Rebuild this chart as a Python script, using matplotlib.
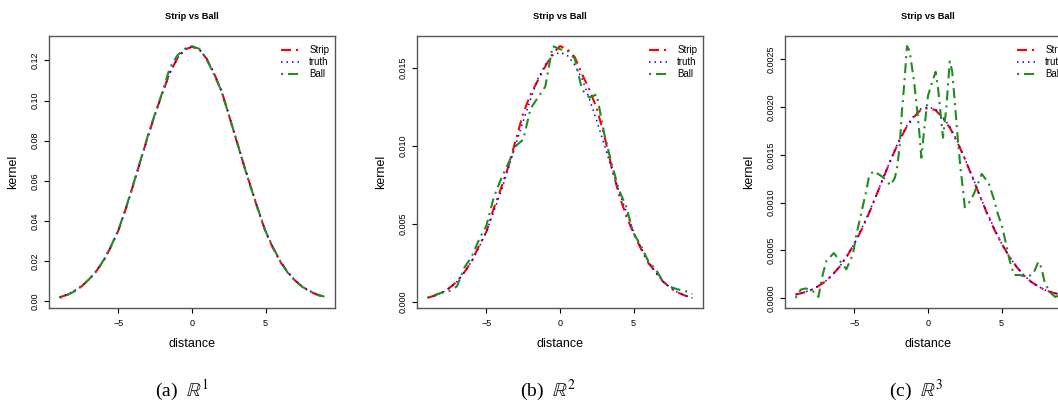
#kernel comparison plots: strip vs ball estimates against the truth, in R^1, R^2, R^3

#dependencies
import numpy as np
import matplotlib
matplotlib.use("Agg")
import matplotlib.pyplot as plt

plt.rcParams['font.family'] = ['Liberation Sans', 'DejaVu Sans']
plt.rcParams['mathtext.fontset'] = 'stix'

#data
#common grid for the smooth curves
x = [-9.0, -8.5, -8.0, -7.5, -7.0, -6.5, -6.0, -5.5, -5.0, -4.5, -4.0, -3.5, -3.0,
     -2.5, -2.0, -1.5, -1.0, -0.5, 0.0, 0.5, 1.0, 1.5, 2.0, 2.5, 3.0, 3.5, 4.0,
     4.5, 5.0, 5.5, 6.0, 6.5, 7.0, 7.5, 8.0, 8.5, 9.0]

#R^1
strip1 = [0.0018, 0.0030, 0.0049, 0.0073, 0.0107, 0.0149, 0.0202, 0.0272, 0.0352, 0.0460,
          0.0578, 0.0700, 0.0820, 0.0935, 0.1040, 0.1140, 0.1210, 0.1255, 0.1268, 0.1255,
          0.1208, 0.1135, 0.1050, 0.0930, 0.0805, 0.0685, 0.0568, 0.0452, 0.0345, 0.0265,
          0.0195, 0.0145, 0.0102, 0.0071, 0.0048, 0.0031, 0.0018]
truth1 = [0.0020, 0.0032, 0.0050, 0.0074, 0.0107, 0.0150, 0.0203, 0.0272, 0.0355, 0.0458,
          0.0575, 0.0698, 0.0818, 0.0932, 0.1040, 0.1138, 0.1210, 0.1255, 0.1270, 0.1255,
          0.1210, 0.1138, 0.1045, 0.0932, 0.0810, 0.0688, 0.0568, 0.0455, 0.0350, 0.0268,
          0.0200, 0.0145, 0.0104, 0.0072, 0.0049, 0.0032, 0.0020]
ball1 = [0.0015, 0.0029, 0.0047, 0.0075, 0.0108, 0.0147, 0.0205, 0.0275, 0.0355, 0.0463,
         0.0580, 0.0702, 0.0825, 0.0938, 0.1045, 0.1165, 0.1225, 0.1258, 0.1272, 0.1258,
         0.1205, 0.1130, 0.1048, 0.0928, 0.0808, 0.0682, 0.0565, 0.0455, 0.0348, 0.0268,
         0.0198, 0.0142, 0.0100, 0.0070, 0.0050, 0.0033, 0.0021]

#R^2
strip2 = [0.00026, 0.0004, 0.0006, 0.0009, 0.0013, 0.0019, 0.0026, 0.0036, 0.0045, 0.0060,
          0.0073, 0.0087, 0.0104, 0.0121, 0.0133, 0.0142, 0.0151, 0.0159, 0.0164, 0.0162,
          0.0157, 0.0146, 0.0136, 0.0124, 0.0107, 0.0087, 0.0069, 0.0055, 0.0044, 0.0034,
          0.0025, 0.0019, 0.0013, 0.0009, 0.0006, 0.0004, 0.00025]
truth2 = [0.00026, 0.0004, 0.0006, 0.0009, 0.0013, 0.0019, 0.0026, 0.0035, 0.0045, 0.0058,
          0.0071, 0.0086, 0.0101, 0.0116, 0.0130, 0.0143, 0.0152, 0.0158, 0.0160, 0.0158,
          0.0152, 0.0143, 0.0130, 0.0116, 0.0101, 0.0086, 0.0071, 0.0058, 0.0045, 0.0035,
          0.0026, 0.0019, 0.0013, 0.0009, 0.0006, 0.0004, 0.00026]
ball2 = [0.00026, 0.00045, 0.0006, 0.0007, 0.0010, 0.0022, 0.0029, 0.0040, 0.0049, 0.0067,
         0.0079, 0.0089, 0.0100, 0.0104, 0.0124, 0.0131, 0.0138, 0.0164, 0.0162, 0.0161,
         0.0156, 0.0136, 0.0131, 0.0133, 0.0108, 0.0089, 0.0072, 0.0061, 0.0044, 0.0036,
         0.0026, 0.0021, 0.0013, 0.00096, 0.0008, 0.0007, 0.0005]

#R^3
strip3 = [0.000035, 0.000054, 0.00008, 0.00012, 0.00017, 0.00024, 0.00033, 0.00044, 0.00057,
          0.00072, 0.00089, 0.00108, 0.00127, 0.00146, 0.00163, 0.00178, 0.00189, 0.00197,
          0.00199, 0.00197, 0.00189, 0.00178, 0.00163, 0.00146, 0.00127, 0.00108, 0.00089,
          0.00072, 0.00057, 0.00044, 0.00033, 0.00024, 0.00017, 0.00012, 0.00008, 0.000054,
          0.000035]
truth3 = [0.000035, 0.000054, 0.00008, 0.00012, 0.00017, 0.00024, 0.00033, 0.00044, 0.00057,
          0.00073, 0.00090, 0.00108, 0.00128, 0.00146, 0.00164, 0.00179, 0.00190, 0.00198,
          0.00200, 0.00198, 0.00190, 0.00179, 0.00164, 0.00146, 0.00128, 0.00108, 0.00090,
          0.00073, 0.00057, 0.00044, 0.00033, 0.00024, 0.00017, 0.00012, 0.00008, 0.000054,
          0.000035]
#ball estimate in R^3 is noisy, so it gets its own (uneven) grid
x3_ball = [-9.0, -8.65, -8.3, -7.7, -7.45, -7.15, -6.9, -6.4, -6.0, -5.55, -5.1, -4.9, -4.55,
           -4.2, -4.0, -3.7, -3.2, -2.95, -2.55, -2.25, -2.1, -1.93, -1.77, -1.6, -1.43,
           -1.25, -0.95, -0.8, -0.6, -0.45, -0.27, 0.0, 0.34, 0.52, 0.68, 0.86, 1.02, 1.25,
           1.48, 1.64, 1.82, 1.98, 2.2, 2.39, 2.5, 2.9, 3.2, 3.65, 3.85, 4.15, 4.45, 4.75,
           5.05, 5.3, 5.55, 5.85, 6.25, 6.7, 7.15, 7.5, 7.7, 7.95, 8.35, 8.65, 9.0]
ball3 = [0.0, 0.87, 1.0, 0.6, 0.1, 2.5, 3.9, 4.7, 3.9, 3.0, 4.6, 6.4, 8.8, 11.2, 12.8, 13.3,
         12.8, 12.5, 11.8, 12.6, 13.7, 15.8, 19.6, 22.7, 26.4, 25.9, 22.7, 20.6, 17.5, 14.7,
         17.5, 21.2, 22.9, 23.7, 22.0, 19.3, 16.8, 20.0, 24.8, 23.8, 20.6, 17.5, 13.7, 11.2,
         9.5, 10.2, 11.2, 13.0, 12.6, 11.9, 10.5, 8.8, 7.4, 5.7, 3.9, 2.4, 2.4, 2.2, 2.5, 3.8,
         3.2, 1.5, 0.5, 0.1, 0.3]  # x 1e-4

panels = [
    (x, strip1, truth1, x, ball1, [0.00, 0.02, 0.04, 0.06, 0.08, 0.10, 0.12], "%.2f", "(a)  $\\mathbb{R}^1$"),
    (x, strip2, truth2, x, ball2, [0.000, 0.005, 0.010, 0.015], "%.3f", "(b)  $\\mathbb{R}^2$"),
    (x, strip3, truth3, x3_ball, [v * 1e-4 for v in ball3],
     [0.0, 0.0005, 0.0010, 0.0015, 0.0020, 0.0025], "%.4f", "(c)  $\\mathbb{R}^3$"),
]

####housekeeping
W, H = 1058, 403
fig = plt.figure(figsize=(W / 100, H / 100), dpi=100)

lefts = [49, 417, 785]      #px, left edge of each plot box
caps = [182, 548, 916]      #px, centre of each caption
box_w, box_top, box_bot = 286, 36, 308

for k, (xs, s, t, xb, b, yt, fmt, cap) in enumerate(panels):
    ax = fig.add_axes([lefts[k] / W, 1 - box_bot / H, box_w / W, (box_bot - box_top) / H])

    ax.plot(xs, s, color="red", lw=1.5, dashes=(4.8, 2.4, 1.0, 2.4), label="Strip")
    ax.plot(xs, t, color="blue", lw=1.1, dashes=(1.0, 2.6), label="truth")
    ax.plot(xb, b, color="#228b22", lw=1.5, dashes=(1.0, 2.4, 4.8, 2.4), label="Ball")

    #R style 4% padding
    lo = min(min(s), min(t), min(b))
    hi = max(max(s), max(t), max(b))
    ax.set_ylim(lo - 0.04 * (hi - lo), hi + 0.04 * (hi - lo))
    ax.set_xlim(-9.72, 9.72)

    ax.set_xticks([-5, 0, 5])
    ax.set_yticks(yt)
    ax.set_yticklabels([fmt % v for v in yt])
    ax.tick_params(direction="out", length=3.6, width=0.8, labelsize=6.5, pad=4.5)
    ax.tick_params(axis="y", labelrotation=90, pad=3.5)
    for lab in ax.get_yticklabels():
        lab.set_va("center")
    for sp in ax.spines.values():
        sp.set_color("#555555")
        sp.set_linewidth(1.0)

    ax.set_title("Strip vs Ball", fontsize=6.7, fontweight="bold", pad=12)
    ax.set_xlabel("distance", fontsize=9, labelpad=7)
    ax.set_ylabel("kernel", fontsize=9, labelpad=8)

    ax.legend(loc="upper right", bbox_to_anchor=(1.012, 1.0), frameon=False, fontsize=7,
              handlelength=2.1, handletextpad=0.8, labelspacing=0.2,
              borderaxespad=0.55, borderpad=0.4)

    fig.text(caps[k] / W, 1 - 390 / H, cap, ha="center", va="center",
             fontsize=14, family="Liberation Serif")

fig.savefig("out.png", dpi=100)
